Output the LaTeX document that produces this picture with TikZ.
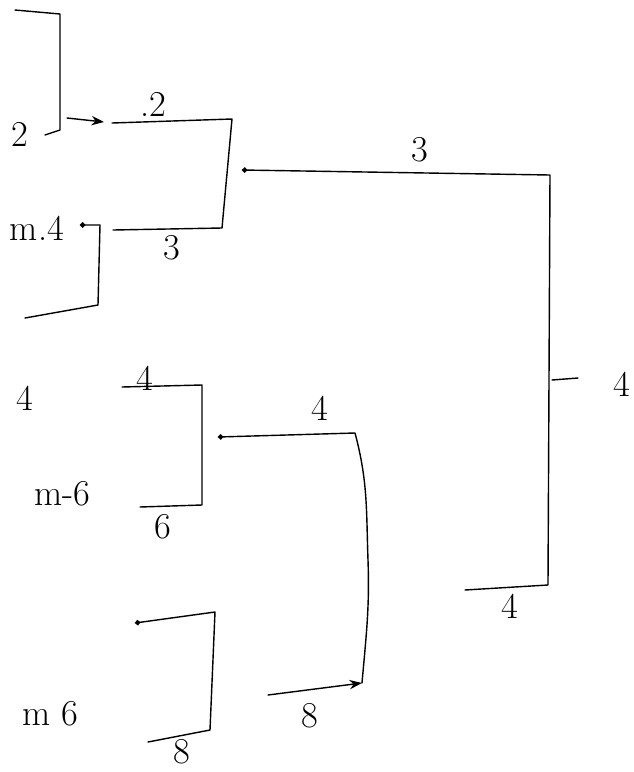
\documentclass[tikz,border=0pt]{standalone}
\usepackage{tikz}
\usetikzlibrary{arrows.meta,positioning}

\begin{document}
\begin{tikzpicture}[
  x=0.02cm, y=-0.02cm,
  wire/.style={line width=0.8pt, line join=round, line cap=round},
  dotwire/.style={wire, {Circle[length=3pt]}-},
  arr/.style={wire, -{Stealth[length=2.5mm]}},
  score/.style={font=\huge, inner sep=1pt},
  team/.style={font=\huge, inner sep=1pt},
]
\useasboundingbox (0,0) rectangle (634,772);

% first round, top half
\coordinate (a1) at (15,10);   \coordinate (a2) at (60,14);
\coordinate (a3) at (60,130);  \coordinate (a4) at (45,135);
\coordinate (c0) at (80,225);  \coordinate (c1) at (100,225);
\coordinate (c2) at (98,305);  \coordinate (c3) at (25,318);
\draw[wire] (a1) -- (a2) -- (a3) -- (a4);
\draw[dotwire] (c0) -- (c1) -- (c2) -- (c3);
\node[team] (t2) at (20,134) {2};
\node[team, anchor=east] (tm4) at (66,228) {m.4};

% second round, top half
\coordinate (p0) at (67,118);  \coordinate (p1) at (104,122);
\coordinate (b1) at (112,123); \coordinate (b2) at (232,119);
\coordinate (b3) at (222,228); \coordinate (b4) at (113,230);
\draw[arr] (p0) -- (p1);
\draw[wire] (b1) -- (b2) -- (b3) -- (b4);
\node[score] (s2) at (153,104) {.2};
\node[score] (s3) at (172,248) {3};

% first round, bottom half
\coordinate (e1) at (122,387); \coordinate (e2) at (202,385);
\coordinate (e3) at (202,505); \coordinate (e4) at (140,507);
\coordinate (g0) at (135,623); \coordinate (g1) at (215,612);
\coordinate (g2) at (210,730); \coordinate (g3) at (148,742);
\draw[wire] (e1) -- (e2) -- (e3) -- (e4);
\draw[dotwire] (g0) -- (g1) -- (g2) -- (g3);
\node[team] (t4) at (25,398) {4};
\node[team, anchor=east] (tm6) at (92,494) {m-6};
\node[team, anchor=east] (tn6) at (80,714) {m 6};
\node[score] (s4a) at (145,378) {4};
\node[score] (s6) at (163,527) {6};
\node[score] (s8a) at (182,752) {8};

% second round, bottom half
\coordinate (f0) at (218,437); \coordinate (f1) at (355,433);
\coordinate (f2) at (368,560); \coordinate (f3) at (362,683);
\coordinate (f4) at (268,695);
\draw[dotwire] (f0) -- (f1) to[out=-75,in=92] (f2) to[out=-88,in=85] (f3);
\draw[arr] (f4) -- (f3);
\node[score] (s4b) at (320,408) {4};
\node[score] (s8b) at (310,716) {8};

% final
\coordinate (h0) at (242,170); \coordinate (h1) at (550,175);
\coordinate (h2) at (548,585); \coordinate (h3) at (465,590);
\coordinate (k0) at (552,380); \coordinate (k1) at (578,378);
\draw[dotwire] (h0) -- (h1) -- (h2) -- (h3);
\draw[wire] (k0) -- (k1);
\node[score] (s3b) at (420,150) {3};
\node[score] (s4c) at (622,384) {4};
\node[score] (s4d) at (510,606) {4};

\end{tikzpicture}
\end{document}
